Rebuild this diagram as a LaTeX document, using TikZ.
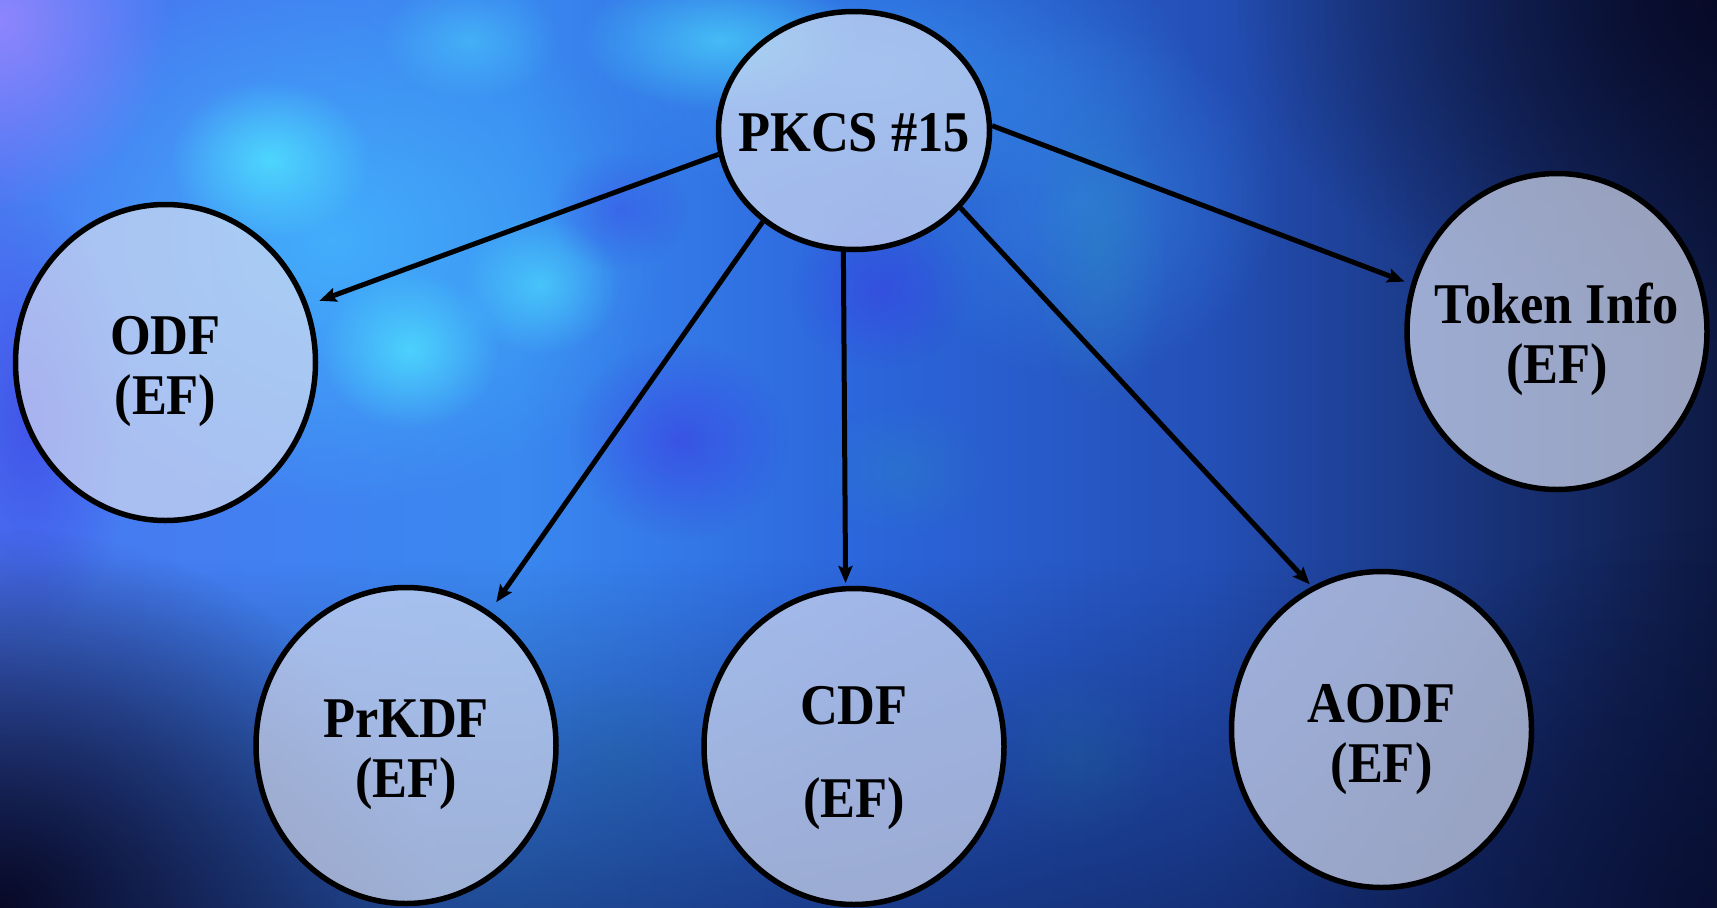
\documentclass[tikz,border=0pt]{standalone}
\usepackage{fontspec}
\setmainfont{Liberation Serif}
\usepackage{graphicx}
\usetikzlibrary{shapes.geometric,arrows.meta,fadings}
\definecolor{bgA}{HTML}{4A78F2}
\definecolor{bgB}{HTML}{3A88F0}
\definecolor{bgC}{HTML}{2C66DC}
\definecolor{bgD}{HTML}{2450B8}
\definecolor{bgE}{HTML}{1A3680}
\definecolor{bgF}{HTML}{0E1A44}
\definecolor{nodefill}{HTML}{D4DCF2}
\definecolor{cyanA}{HTML}{50E4FF}
\definecolor{cyanB}{HTML}{44C0FF}
\definecolor{blueA}{HTML}{3A9CF4}
\definecolor{purpA}{HTML}{9A88FF}
\definecolor{purpB}{HTML}{3C3CE4}
\definecolor{tealA}{HTML}{2A86C0}
\definecolor{darkA}{HTML}{060620}
\definecolor{darkB}{HTML}{0A1848}
\pgfdeclarehorizontalshading{bgshade}{100bp}{color(0bp)=(bgA); color(25bp)=(bgA); color(40bp)=(bgB); color(50bp)=(bgC); color(60bp)=(bgD); color(67.5bp)=(bgE); color(75bp)=(bgF); color(100bp)=(bgF)}
\tikzfading[name=softblob, inner color=transparent!0, outer color=transparent!100]
\tikzfading[name=darkbottom, top color=transparent!100, bottom color=transparent!0]
\newcommand\lbl[2][0pt]{\raisebox{-#1}[\height][\depth]{\scalebox{0.91}[1]{\begin{tabular}{@{}c@{}}#2\end{tabular}}}}
\tikzset{
  circ/.style={ellipse, draw=black, line width=5.5pt, fill=nodefill, fill opacity=0.7, text opacity=1,
    minimum width=300pt, minimum height=316pt, inner xsep=-40pt, inner ysep=0pt,
    font=\bfseries\fontsize{57.6}{60}\selectfont},
  root/.style={circ, minimum width=271pt, minimum height=238pt},
  link/.style={line width=5pt, -{Stealth[length=17pt,width=14pt,inset=3pt]}},
  blob/.style={path fading=softblob},
}
\begin{document}
\begin{tikzpicture}[x=1pt,y=-1pt]
\useasboundingbox (0,0) rectangle (1717,908);
\begin{scope}
\clip (0,0) rectangle (1717,908);
\shade[shading=bgshade] (0,0) rectangle (1717,908);
% glows
\fill[cyanB, blob, opacity=0.7] (330,240) ellipse (340 and 270);
\fill[blueA, blob, opacity=0.6] (880,70) ellipse (320 and 140);
\fill[blueA, blob, opacity=0.45] (1080,200) ellipse (200 and 180);
\fill[purpA, blob, opacity=0.85] (0,20) ellipse (170 and 190);
\fill[cyanA, blob, opacity=0.8] (270,160) ellipse (100 and 80);
\fill[cyanA, blob, opacity=0.75] (410,350) ellipse (90 and 80);
\fill[cyanA, blob, opacity=0.6] (540,285) ellipse (80 and 70);
\fill[cyanA, blob, opacity=0.6] (720,40) ellipse (140 and 70);
\fill[cyanA, blob, opacity=0.4] (470,40) ellipse (90 and 60);
\fill[purpB, blob, opacity=0.6] (680,440) ellipse (110 and 100);
\fill[purpB, blob, opacity=0.5] (880,290) ellipse (90 and 80);
\fill[purpB, blob, opacity=0.4] (620,210) ellipse (70 and 60);
\fill[purpB, blob, opacity=0.6] (30,420) ellipse (100 and 220);
\fill[tealA, blob, opacity=0.45] (1100,250) ellipse (70 and 160);
\fill[tealA, blob, opacity=0.35] (900,470) ellipse (90 and 70);
\fill[tealA, blob, opacity=0.35] (1080,760) ellipse (90 and 90);
\fill[tealA, blob, opacity=0.3] (620,760) ellipse (80 and 90);
\fill[darkB, path fading=darkbottom, opacity=0.55] (0,560) rectangle (1717,908);
\fill[darkA, blob, opacity=0.95] (0,908) ellipse (430 and 380);
\fill[darkA, blob, opacity=0.8] (1717,0) ellipse (480 and 340);
\fill[darkA, blob, opacity=0.5] (1717,908) ellipse (420 and 380);
\end{scope}
% nodes
\node[root] (pk) at (854,130.5) {\lbl[9pt]{PKCS \#15}};
\node[circ] (odf) at (165.5,362.5) {\lbl[10pt]{ODF\\(EF)}};
\node[circ] (tok) at (1557,331.5) {\lbl[10pt]{Token Info\\(EF)}};
\node[circ] (prk) at (406,745.5) {\lbl[10pt]{PrKDF\\(EF)}};
\node[circ] (cdf) at (854,746.5) {\lbl[12pt]{CDF\\[33pt](EF)}};
\node[circ] (aodf) at (1381.5,729.5) {\lbl[11pt]{AODF\\(EF)}};
% links
\draw[link, shorten >=12pt] (pk.190.3) -- (odf.22.9);
\draw[link, shorten >=11pt] (pk.225.2) -- (prk.58.5);
\draw[link, shorten >=3pt] (pk.265.3) -- (cdf.93.6);
\draw[link, shorten >=3pt] (pk.324.6) -- (aodf.116.8);
\draw[link, shorten >=7pt] (pk.2.7) -- (tok.162.3);
\end{tikzpicture}
\end{document}
